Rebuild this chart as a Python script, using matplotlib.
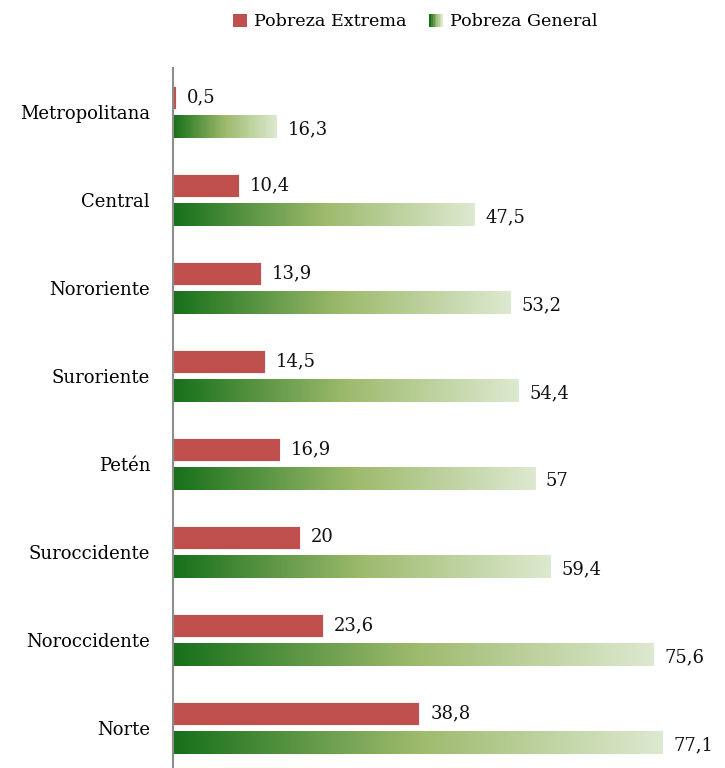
import matplotlib.pyplot as plt
import numpy as np
from matplotlib.colors import LinearSegmentedColormap
from matplotlib.legend_handler import HandlerBase
from matplotlib.patches import Rectangle

regiones = ["Metropolitana", "Central", "Nororiente", "Suroriente",
            "Petén", "Suroccidente", "Noroccidente", "Norte"]
pobreza_extrema = [0.5, 10.4, 13.9, 14.5, 16.9, 20, 23.6, 38.8]
pobreza_general = [16.3, 47.5, 53.2, 54.4, 57, 59.4, 75.6, 77.1]

plt.rcParams['font.family'] = ['DejaVu Serif']

rojo = "#C0504D"
verde = LinearSegmentedColormap.from_list(
    "verde", ["#17701a", "#9dba6c", "#dde9d0"])


def etiqueta(v):
    return f"{v:g}".replace(".", ",")


#legend handle with a small gradient square
class HandlerGradiente(HandlerBase):
    def create_artists(self, legend, orig_handle, xdescent, ydescent,
                       width, height, fontsize, trans):
        n = 8
        lado = height * 1.0
        x0 = -xdescent + (width - lado)
        piezas = []
        for i in range(n):
            r = Rectangle((x0 + i * lado / n, -ydescent), lado / n, lado,
                          facecolor=verde(i / (n - 1)), edgecolor="none",
                          transform=trans)
            piezas.append(r)
        return piezas


fig = plt.figure(figsize=(7.25, 7.68), dpi=100)
ax = fig.add_axes([173 / 725, -4 / 768, (713 - 173) / 725, 704 / 768])

y = np.arange(len(regiones))
alto = 0.26
desp = 0.165
fs = 13

ax.barh(y - desp, pobreza_extrema, height=alto, color=rojo,
        edgecolor="white", linewidth=0.6)

barras_g = ax.barh(y + desp, pobreza_general, height=alto, color="none")
gradiente = np.linspace(0, 1, 256).reshape(1, -1)
for b in barras_g:
    x0, y0 = b.get_x(), b.get_y()
    w, h = b.get_width(), b.get_height()
    ax.imshow(gradiente, cmap=verde, aspect="auto",
              extent=[x0, x0 + w, y0 + h, y0], zorder=2)

for i in range(len(regiones)):
    ax.text(pobreza_extrema[i] + 1.7, y[i] - desp, etiqueta(pobreza_extrema[i]),
            va="center", ha="left", fontsize=fs, color="#111111")
    ax.text(pobreza_general[i] + 1.7, y[i] + desp + 0.03,
            etiqueta(pobreza_general[i]),
            va="center", ha="left", fontsize=fs, color="#111111")

ax.set_xlim(0, 85)
ax.set_ylim(len(regiones) - 0.5, -0.5)
ax.set_yticks(y)
ax.set_yticklabels(regiones, fontsize=fs)
ax.tick_params(axis="y", length=0, pad=16.5)
ax.set_xticks([])

for lado in ["top", "right", "bottom"]:
    ax.spines[lado].set_visible(False)
ax.spines["left"].set_color("#8c8c8c")
ax.spines["left"].set_linewidth(1.5)

h_rojo = Rectangle((0, 0), 1, 1, facecolor=rojo)
h_verde = Rectangle((0, 0), 1, 1, facecolor=verde(0.5))
fig.legend([h_rojo, h_verde], ["Pobreza Extrema", "Pobreza General"],
           handler_map={h_verde: HandlerGradiente()},
           loc="upper center", bbox_to_anchor=(415 / 725, 1.003), ncol=2,
           frameon=False, fontsize=12.6, handlelength=0.8, handleheight=0.8,
           handletextpad=0.4, columnspacing=1.3)

fig.savefig("out.png", dpi=100)
